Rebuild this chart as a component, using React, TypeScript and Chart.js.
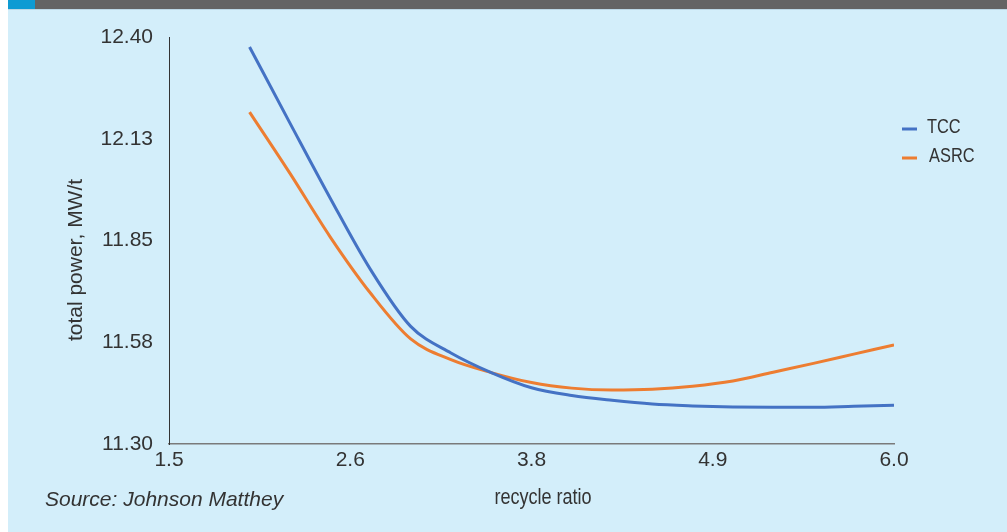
import React, { useEffect, useRef } from "react";
import { Chart, registerables } from "chart.js";

Chart.register(...registerables);

const xValues = [2.0, 2.25, 2.5, 2.75, 3.0, 3.25, 3.5, 3.75, 4.0, 4.25, 4.5, 4.75, 5.0, 5.25, 5.5, 5.75, 6.0];
const tccValues = [12.373, 12.168, 11.965, 11.772, 11.618, 11.546, 11.493, 11.452, 11.431, 11.418, 11.408, 11.403, 11.4, 11.399, 11.399, 11.402, 11.405];
const asrcValues = [12.197, 12.032, 11.86, 11.708, 11.584, 11.528, 11.493, 11.466, 11.451, 11.446, 11.448, 11.456, 11.47, 11.494, 11.518, 11.543, 11.568];

const seriesNames = ["TCC", "ASRC"];
const seriesColors = ["#4472c4", "#ed7d31"];

const yTickValues = [11.3, 11.575, 11.85, 12.125, 12.4];
const yTickLabels = ["11.30", "11.58", "11.85", "12.13", "12.40"];
const xTickValues = [1.5, 2.625, 3.75, 4.875, 6.0];
const xTickLabels = ["1.5", "2.6", "3.8", "4.9", "6.0"];

const xTitle = "recycle ratio";
const yTitle = "total power, MW/t";
const sourceText = "Source: Johnson Matthey";

const REG = "'Liberation Sans', Arial, sans-serif";

function narrowText(ctx: CanvasRenderingContext2D, text: string, x: number, y: number, sx: number) {
  ctx.save();
  ctx.translate(x, y);
  ctx.scale(sx, 1);
  ctx.fillText(text, 0, 0);
  ctx.restore();
}

const decorPlugin = {
  id: "decor",
  afterDraw(chart: any) {
    const ctx = chart.ctx as CanvasRenderingContext2D;
    ctx.save();
    ctx.fillStyle = "#333333";
    ctx.font = `21px ${REG}`;
    ctx.textAlign = "center";
    ctx.textBaseline = "alphabetic";
    ctx.translate(73.5, 260);
    ctx.rotate(-Math.PI / 2);
    ctx.fillText(yTitle, 0, 0);
    ctx.restore();

    ctx.save();
    ctx.fillStyle = "#333333";
    ctx.textBaseline = "alphabetic";
    ctx.font = `22px ${REG}`;
    ctx.textAlign = "center";
    narrowText(ctx, xTitle, 535, 504, 0.82);

    ctx.font = `italic 21px ${REG}`;
    ctx.textAlign = "left";
    ctx.fillText(sourceText, 37, 506);

    const legendY = [129, 158];
    const textY = [133, 162];
    ctx.font = `20px ${REG}`;
    seriesNames.forEach((name, i) => {
      ctx.strokeStyle = seriesColors[i];
      ctx.lineWidth = 3;
      ctx.beginPath();
      ctx.moveTo(894, legendY[i]);
      ctx.lineTo(909, legendY[i]);
      ctx.stroke();
      ctx.fillStyle = "#333333";
      narrowText(ctx, name, 919 + (i === 1 ? 2 : 0), textY[i], 0.82);
    });
    ctx.restore();
  },
};

export default function App() {
  const canvasRef = useRef<HTMLCanvasElement | null>(null);

  useEffect(() => {
    if (!canvasRef.current) return;
    const chart = new Chart(canvasRef.current, {
      type: "line",
      data: {
        datasets: [
          {
            label: seriesNames[0],
            data: xValues.map((x, i) => ({ x, y: tccValues[i] })),
            borderColor: seriesColors[0],
            backgroundColor: seriesColors[0],
            borderWidth: 3,
            pointRadius: 0,
            cubicInterpolationMode: "monotone",
            fill: false,
          },
          {
            label: seriesNames[1],
            data: xValues.map((x, i) => ({ x, y: asrcValues[i] })),
            borderColor: seriesColors[1],
            backgroundColor: seriesColors[1],
            borderWidth: 3,
            pointRadius: 0,
            cubicInterpolationMode: "monotone",
            fill: false,
          },
        ],
      },
      options: {
        animation: false,
        responsive: false,
        maintainAspectRatio: false,
        layout: { padding: { top: 37, right: 113, left: 0, bottom: 0 } },
        plugins: {
          legend: { display: false },
          tooltip: { enabled: false },
        },
        scales: {
          x: {
            type: "linear",
            min: 1.5,
            max: 6.0,
            grid: { display: false, drawTicks: false },
            border: { display: true, color: "#7a7a7a", width: 1.5 },
            afterBuildTicks: (scale: any) => {
              scale.ticks = xTickValues.map((v) => ({ value: v }));
            },
            afterFit: (scale: any) => {
              scale.height = 88;
            },
            ticks: {
              padding: 4,
              color: "#333333",
              font: { family: REG, size: 21 },
              maxRotation: 0,
              autoSkip: false,
              callback: (_v: any, i: number) => xTickLabels[i],
            },
          },
          y: {
            type: "linear",
            min: 11.3,
            max: 12.4,
            grid: { display: false, drawTicks: false },
            border: { display: true, color: "#333333", width: 1 },
            afterBuildTicks: (scale: any) => {
              scale.ticks = yTickValues.map((v) => ({ value: v }));
            },
            afterFit: (scale: any) => {
              scale.width = 161;
            },
            ticks: {
              padding: 16,
              color: "#333333",
              font: { family: REG, size: 21 },
              autoSkip: false,
              callback: (_v: any, i: number) => yTickLabels[i],
            },
          },
        },
      },
      plugins: [decorPlugin],
    } as any);
    return () => chart.destroy();
  }, []);

  return (
    <div
      style={{
        position: "absolute",
        left: 8,
        top: 0,
        width: 999,
        height: 532,
        background: "#d3eefa",
        overflow: "hidden",
      }}
    >
      <div style={{ position: "absolute", left: 0, top: 0, width: 999, height: 9, background: "#646464" }} />
      <div style={{ position: "absolute", left: 0, top: 0, width: 27, height: 9, background: "#0e9bd3" }} />
      <div style={{ position: "absolute", left: 0, top: 9, width: 999, height: 1, background: "#bcd8e6" }} />
      <canvas
        ref={canvasRef}
        width={999}
        height={532}
        style={{ position: "absolute", left: 0, top: 0, width: 999, height: 532 }}
      />
    </div>
  );
}
